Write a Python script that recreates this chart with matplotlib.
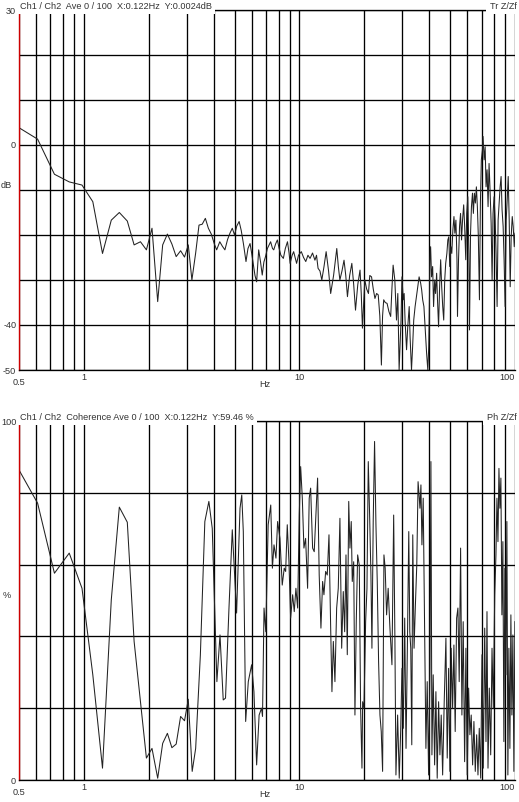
import numpy as np
import matplotlib
matplotlib.use("Agg")
import matplotlib.pyplot as plt
from matplotlib.ticker import FixedLocator, NullFormatter

plt.rcParams['font.family'] = ['Liberation Sans', 'DejaVu Sans']
plt.rcParams['font.size'] = 7

# transfer function magnitude (dB) vs frequency (Hz)
tr_freq = [0.49, 0.61, 0.73, 0.855, 0.98, 1.10, 1.22, 1.34, 1.46, 1.59, 1.71, 1.83, 1.95, 2.07, 2.20,
           2.32, 2.44, 2.56, 2.68, 2.81, 2.93, 3.05, 3.17, 3.30, 3.42, 3.54, 3.66, 3.78, 3.90, 4.03,
           4.13, 4.27, 4.39, 4.51, 4.64, 4.76, 4.88, 5.00, 5.12, 5.25, 5.37, 5.50, 5.65, 5.77, 5.90,
           6.00, 6.10, 6.22, 6.33, 6.47, 6.60, 6.72, 6.84, 6.96, 7.10, 7.35, 7.50, 7.60, 7.75, 7.90,
           8.05, 8.20, 8.42, 8.60, 8.80, 8.95, 9.05, 9.25, 9.40, 9.55, 9.70, 9.90, 10.2, 10.45, 10.7,
           10.95, 11.2, 11.5, 11.8, 12.0, 12.2, 12.45, 12.7, 13.0, 13.3, 13.65, 13.96, 14.4, 14.9, 15.15,
           15.4, 15.75, 16.1, 16.4, 16.7, 17.1, 17.5, 17.85, 18.2, 18.65, 19.1, 19.35, 19.6, 20.1, 20.5,
           20.9, 21.2, 21.6, 22.0, 22.4, 22.8, 23.2, 23.6, 24.0, 24.3, 24.6, 25.0, 25.5, 26.0, 26.5,
           26.85, 27.2, 27.7, 28.2, 28.6, 29.0, 29.6, 29.9, 30.3, 30.6, 30.9, 31.4, 31.8, 32.3, 32.6,
           33.1, 33.5, 33.9, 34.4, 34.9, 35.4, 35.9, 36.5, 36.9, 37.3, 37.8, 38.4, 38.9, 39.4, 39.8,
           40.0, 40.3, 40.6, 41.0, 41.5, 41.9, 42.4, 42.8, 43.3, 43.7, 44.2, 44.7, 45.2, 45.7, 46.2,
           46.7, 47.2, 47.7, 48.3, 48.8, 49.3, 49.8, 50.4, 50.9, 51.5, 52.1, 52.6, 53.2, 53.8, 54.1,
           54.7, 55.3, 55.9, 56.5, 57.1, 57.8, 58.4, 59.1, 59.7, 60.4, 61.1, 61.5, 62.2, 62.8, 63.5,
           64.1, 64.8, 65.5, 66.2, 66.9, 67.6, 68.4, 69.1, 69.8, 70.6, 71.1, 71.9, 72.7, 73.4, 74.2,
           75.0, 75.8, 76.7, 77.5, 78.3, 79.1, 80.0, 80.9, 81.7, 82.6, 83.5, 84.4, 85.3, 86.2, 87.1,
           88.1, 89.0, 90.0, 91.0, 92.0, 93.0, 94.0, 95.0, 96.0, 97.1, 98.1, 99.2, 100.0]
tr_db = [4.1, 1.3, -6.5, -8.2, -8.9, -12.6, -24.1, -16.7, -15.0, -16.9, -22.2, -21.5, -23.3, -18.5, -34.8,
         -22.2, -19.8, -22.0, -24.8, -23.5, -24.9, -22.2, -30.0, -24.0, -17.8, -17.6, -16.3, -18.5, -19.8, -22.0,
         -23.3, -21.5, -22.5, -23.3, -21.0, -19.6, -18.5, -20.0, -18.0, -17.0, -19.0, -22.0, -25.9, -23.0, -21.9,
         -24.0, -26.3, -29.0, -30.4, -23.3, -26.0, -28.9, -26.0, -24.8, -23.0, -21.5, -23.0, -23.3, -22.0, -21.1,
         -23.0, -24.5, -25.2, -23.0, -21.5, -24.0, -26.3, -24.5, -23.7, -25.0, -26.3, -24.5, -23.7, -25.0, -25.9,
         -24.5, -25.2, -24.0, -25.6, -24.5, -27.4, -28.0, -30.0, -27.0, -23.7, -28.0, -33.0, -29.0, -23.0, -27.0,
         -30.0, -28.0, -25.6, -29.0, -33.7, -29.0, -26.3, -31.0, -36.7, -31.0, -27.8, -33.0, -40.7, -30.0, -32.0,
         -33.0, -29.0, -29.3, -32.0, -34.1, -33.0, -33.3, -38.0, -48.9, -38.0, -34.4, -35.0, -35.2, -37.0, -38.1,
         -32.0, -26.7, -30.0, -38.9, -33.0, -50.0, -38.9, -29.3, -34.4, -33.0, -38.9, -45.5, -40.4, -35.9, -42.6,
         -50.0, -44.8, -38.9, -35.9, -33.7, -31.5, -29.3, -30.7, -32.2, -34.4, -35.9, -41.8, -46.3, -50.0, -44.8,
         -38.9, -25.5, -22.6, -29.3, -27.0, -35.9, -30.0, -33.0, -28.5, -34.4, -40.4, -31.5, -25.5, -31.5, -35.9,
         -38.9, -30.0, -26.3, -24.1, -21.1, -20.4, -27.0, -22.6, -24.1, -18.9, -15.9, -19.6, -16.7, -25.5, -38.1,
         -25.5, -18.1, -15.2, -21.1, -16.7, -13.3, -18.1, -25.5, -15.2, -11.5, -24.1, -41.1, -19.6, -13.7, -10.7,
         -15.2, -10.7, -12.9, -9.3, -13.7, -20.4, -34.4, -12.9, -3.3, -1.1, 1.9, -3.3, -0.4, -9.3, -5.5,
         -13.7, -4.1, -10.7, -17.4, -30.0, -15.2, -11.5, -16.7, -24.1, -35.9, -16.7, -12.9, -9.3, -7.0, -14.4,
         -18.1, -25.5, -35.9, -16.7, -12.2, -7.0, -16.7, -31.5, -20.4, -15.9, -18.1, -22.6, -19.6]

# coherence (%) vs frequency (Hz)
coh_freq = [0.49, 0.61, 0.73, 0.855, 0.98, 1.10, 1.22, 1.34, 1.46, 1.59, 1.71, 1.83, 1.95, 2.07, 2.20,
            2.32, 2.44, 2.56, 2.68, 2.81, 2.93, 3.05, 3.18, 3.30, 3.47, 3.64, 3.80, 3.94, 4.14, 4.28,
            4.43, 4.54, 4.71, 4.88, 5.11, 5.30, 5.40, 5.49, 5.63, 5.79, 6.00, 6.15, 6.33, 6.50, 6.67,
            6.74, 6.85, 6.98, 7.16, 7.36, 7.49, 7.62, 7.78, 7.92, 8.12, 8.32, 8.50, 8.63, 8.78, 8.94,
            9.10, 9.30, 9.46, 9.63, 9.81, 9.98, 10.13, 10.31, 10.49, 10.68, 10.91, 11.10, 11.27, 11.51, 11.71,
            11.92, 12.14, 12.35, 12.58, 12.81, 12.99, 13.23, 13.46, 13.71, 13.96, 14.15, 14.36, 14.61, 14.88, 15.14,
            15.41, 15.70, 15.97, 16.21, 16.44, 16.67, 16.93, 17.15, 17.39, 17.58, 17.85, 18.09, 18.35, 18.62, 18.95,
            19.22, 19.50, 19.64, 19.92, 20.28, 20.57, 20.86, 21.16, 21.46, 21.69, 21.99, 22.31, 22.64, 22.96, 23.29,
            23.63, 23.96, 24.31, 24.66, 24.99, 25.37, 25.80, 26.29, 26.49, 26.86, 27.36, 27.73, 28.03, 28.54, 29.04,
            29.48, 29.90, 30.33, 30.78, 31.22, 31.67, 32.15, 32.50, 32.84, 33.20, 33.55, 34.02, 34.51, 35.02, 35.51,
            35.89, 36.22, 36.61, 37.00, 37.51, 38.07, 38.61, 39.15, 39.74, 40.30, 40.73, 41.17, 41.74, 42.37, 42.96,
            43.56, 44.22, 44.84, 45.47, 46.16, 46.95, 47.81, 48.48, 49.21, 49.89, 50.59, 51.36, 52.07, 52.79, 53.60,
            54.35, 55.10, 55.93, 56.71, 57.50, 58.38, 59.19, 60.02, 60.93, 61.77, 62.64, 63.59, 64.48, 65.42, 66.40,
            67.33, 68.27, 69.31, 70.28, 71.26, 72.35, 73.35, 74.14, 74.94, 75.99, 77.14, 78.23, 79.32, 80.52, 81.59,
            82.46, 83.35, 84.24, 85.10, 86.01, 86.93, 87.86, 88.80, 89.76, 90.72, 91.69, 92.67, 93.67, 94.69, 95.70,
            96.73, 97.76, 98.81, 99.88]
coh_pct = [87.3, 77.1, 57.6, 63.2, 53.4, 29.3, 3.3, 50.2, 76.0, 71.8, 38.6, 21.8, 6.1, 8.8, 0.5,
           10.2, 13.0, 9.0, 10.0, 17.7, 16.5, 22.5, 2.4, 8.8, 34.8, 72.0, 77.6, 70.1, 27.4, 40.4,
           22.3, 22.8, 47.8, 69.7, 46.5, 75.7, 79.4, 69.2, 16.3, 27.4, 32.1, 24.6, 4.2, 18.1, 20.0,
           17.7, 47.9, 41.3, 71.1, 76.6, 59.0, 65.5, 61.8, 72.0, 67.3, 54.3, 59.0, 58.1, 71.1, 60.8,
           45.1, 51.6, 46.9, 53.4, 47.9, 73.9, 87.3, 78.5, 64.6, 67.3, 53.4, 78.5, 81.3, 64.6, 63.6,
           73.9, 84.1, 57.1, 42.3, 55.3, 51.6, 58.1, 57.1, 68.3, 42.3, 24.6, 38.6, 27.4, 47.9, 53.4,
           72.9, 36.7, 52.5, 41.3, 62.7, 34.9, 77.6, 64.6, 72.0, 55.3, 60.8, 18.1, 44.1, 62.7, 59.9,
           20.0, 3.3, 21.8, 20.0, 44.1, 53.4, 88.7, 73.9, 57.1, 36.7, 72.0, 94.3, 71.1, 55.3, 33.0,
           18.1, 13.5, 2.4, 62.7, 59.0, 46.0, 53.4, 42.3, 38.6, 32.1, 73.8, 38.6, 1.4, 18.1, 0.5,
           13.5, 31.1, 14.4, 45.1, 8.8, 36.7, 69.2, 41.3, 36.7, 9.8, 68.3, 36.7, 48.8, 59.9, 83.1,
           79.4, 75.7, 82.2, 65.5, 78.5, 42.3, 8.8, 27.4, 1.4, 31.1, 88.7, 7.0, 29.3, 4.2, 24.6,
           0.5, 21.8, 7.0, 18.1, 1.4, 21.8, 39.5, 6.1, 31.1, 2.4, 36.7, 20.0, 37.6, 13.5, 45.1,
           47.9, 27.4, 64.6, 18.1, 44.1, 5.1, 36.7, 1.4, 25.6, 12.6, 18.1, 4.2, 16.3, 2.4, 12.6,
           1.4, 14.4, 0.5, 34.9, 3.3, 42.3, 10.7, 46.9, 3.3, 25.6, 7.0, 36.7, 20.0, 51.6, 62.7,
           78.5, 66.4, 86.8, 75.7, 84.1, 46.0, 66.4, 10.7, 59.0, 29.3, 72.0, 1.4, 36.7, 8.8, 46.0,
           18.1, 40.4, 2.4, 44.1]

x_major = [0.5, 1, 10, 100]
x_major_labels = ["0.5", "1", "10", "100"]
x_minor = [0.6, 0.7, 0.8, 0.9, 2, 3, 4, 5, 6, 7, 8, 9, 20, 30, 40, 50, 60, 70, 80, 90]

fig = plt.figure(figsize=(5.19, 8.02), dpi=100)
W, H = 519.0, 802.0
FS = 6.6


def setup(ax, yticks, ylabels, ylim, ylab, title, tag):
    ax.set_xscale('log')
    ax.set_xlim(0.5, 100)
    ax.set_ylim(*ylim)
    ax.xaxis.set_major_locator(FixedLocator(x_major))
    ax.xaxis.set_minor_locator(FixedLocator(x_minor))
    ax.xaxis.set_minor_formatter(NullFormatter())
    ax.set_xticklabels(x_major_labels)
    ax.set_yticks(yticks)
    ax.set_yticklabels(ylabels)
    ax.tick_params(which='both', length=0, pad=2, labelsize=FS, colors='#333333')
    ax.xaxis.get_major_ticks()[0].set_pad(6)
    ax.get_xticklabels()[-1].set_horizontalalignment('right')
    ax.grid(True, which='both', color='black', lw=0.95)
    ax.set_axisbelow(True)
    ax.spines['right'].set_visible(False)
    ax.spines['left'].set_color('#cc0000')
    ax.spines['left'].set_linewidth(1.0)
    ax.spines['bottom'].set_linewidth(0.95)
    ax.spines['top'].set_linewidth(0.95)
    ax.set_xlabel('Hz', fontsize=FS, color='#333333')
    ax.xaxis.set_label_coords(0.495, -0.028)
    ax.set_ylabel(ylab, rotation=0, fontsize=FS, color='#333333')
    ax.yaxis.set_label_coords(-0.025, 0.5)
    bb = dict(facecolor='white', edgecolor='none', pad=2.5)
    ax.text(0.002, 1.011, title, transform=ax.transAxes, ha='left', va='center',
            fontsize=FS, color='#333333', bbox=bb, zorder=5, clip_on=False)
    ax.text(1.003, 1.011, tag, transform=ax.transAxes, ha='right', va='center',
            fontsize=FS, color='#333333', bbox=bb, zorder=5, clip_on=False)


ax1 = fig.add_axes([19 / W, 1 - 370 / H, 496 / W, 360 / H])
ax1.plot(tr_freq, tr_db, color='#222222', lw=0.75)
setup(ax1, list(range(-50, 31, 10)), ['-50', '-40', '', '', '', '0', '', '', '30'], (-50, 30), 'dB',
      'Ch1 / Ch2  Ave 0 / 100  X:0.122Hz  Y:0.0024dB', 'Tr Z/Zf')

ax2 = fig.add_axes([19 / W, 1 - 780 / H, 496 / W, 359 / H])
ax2.plot(coh_freq, coh_pct, color='#222222', lw=0.75)
setup(ax2, [0, 20, 40, 60, 80, 100], ['0', '', '', '', '', '100'], (0, 100), '%',
      'Ch1 / Ch2  Coherence Ave 0 / 100  X:0.122Hz  Y:59.46 %', 'Ph Z/Zf')

fig.savefig('out.png', dpi=100)
